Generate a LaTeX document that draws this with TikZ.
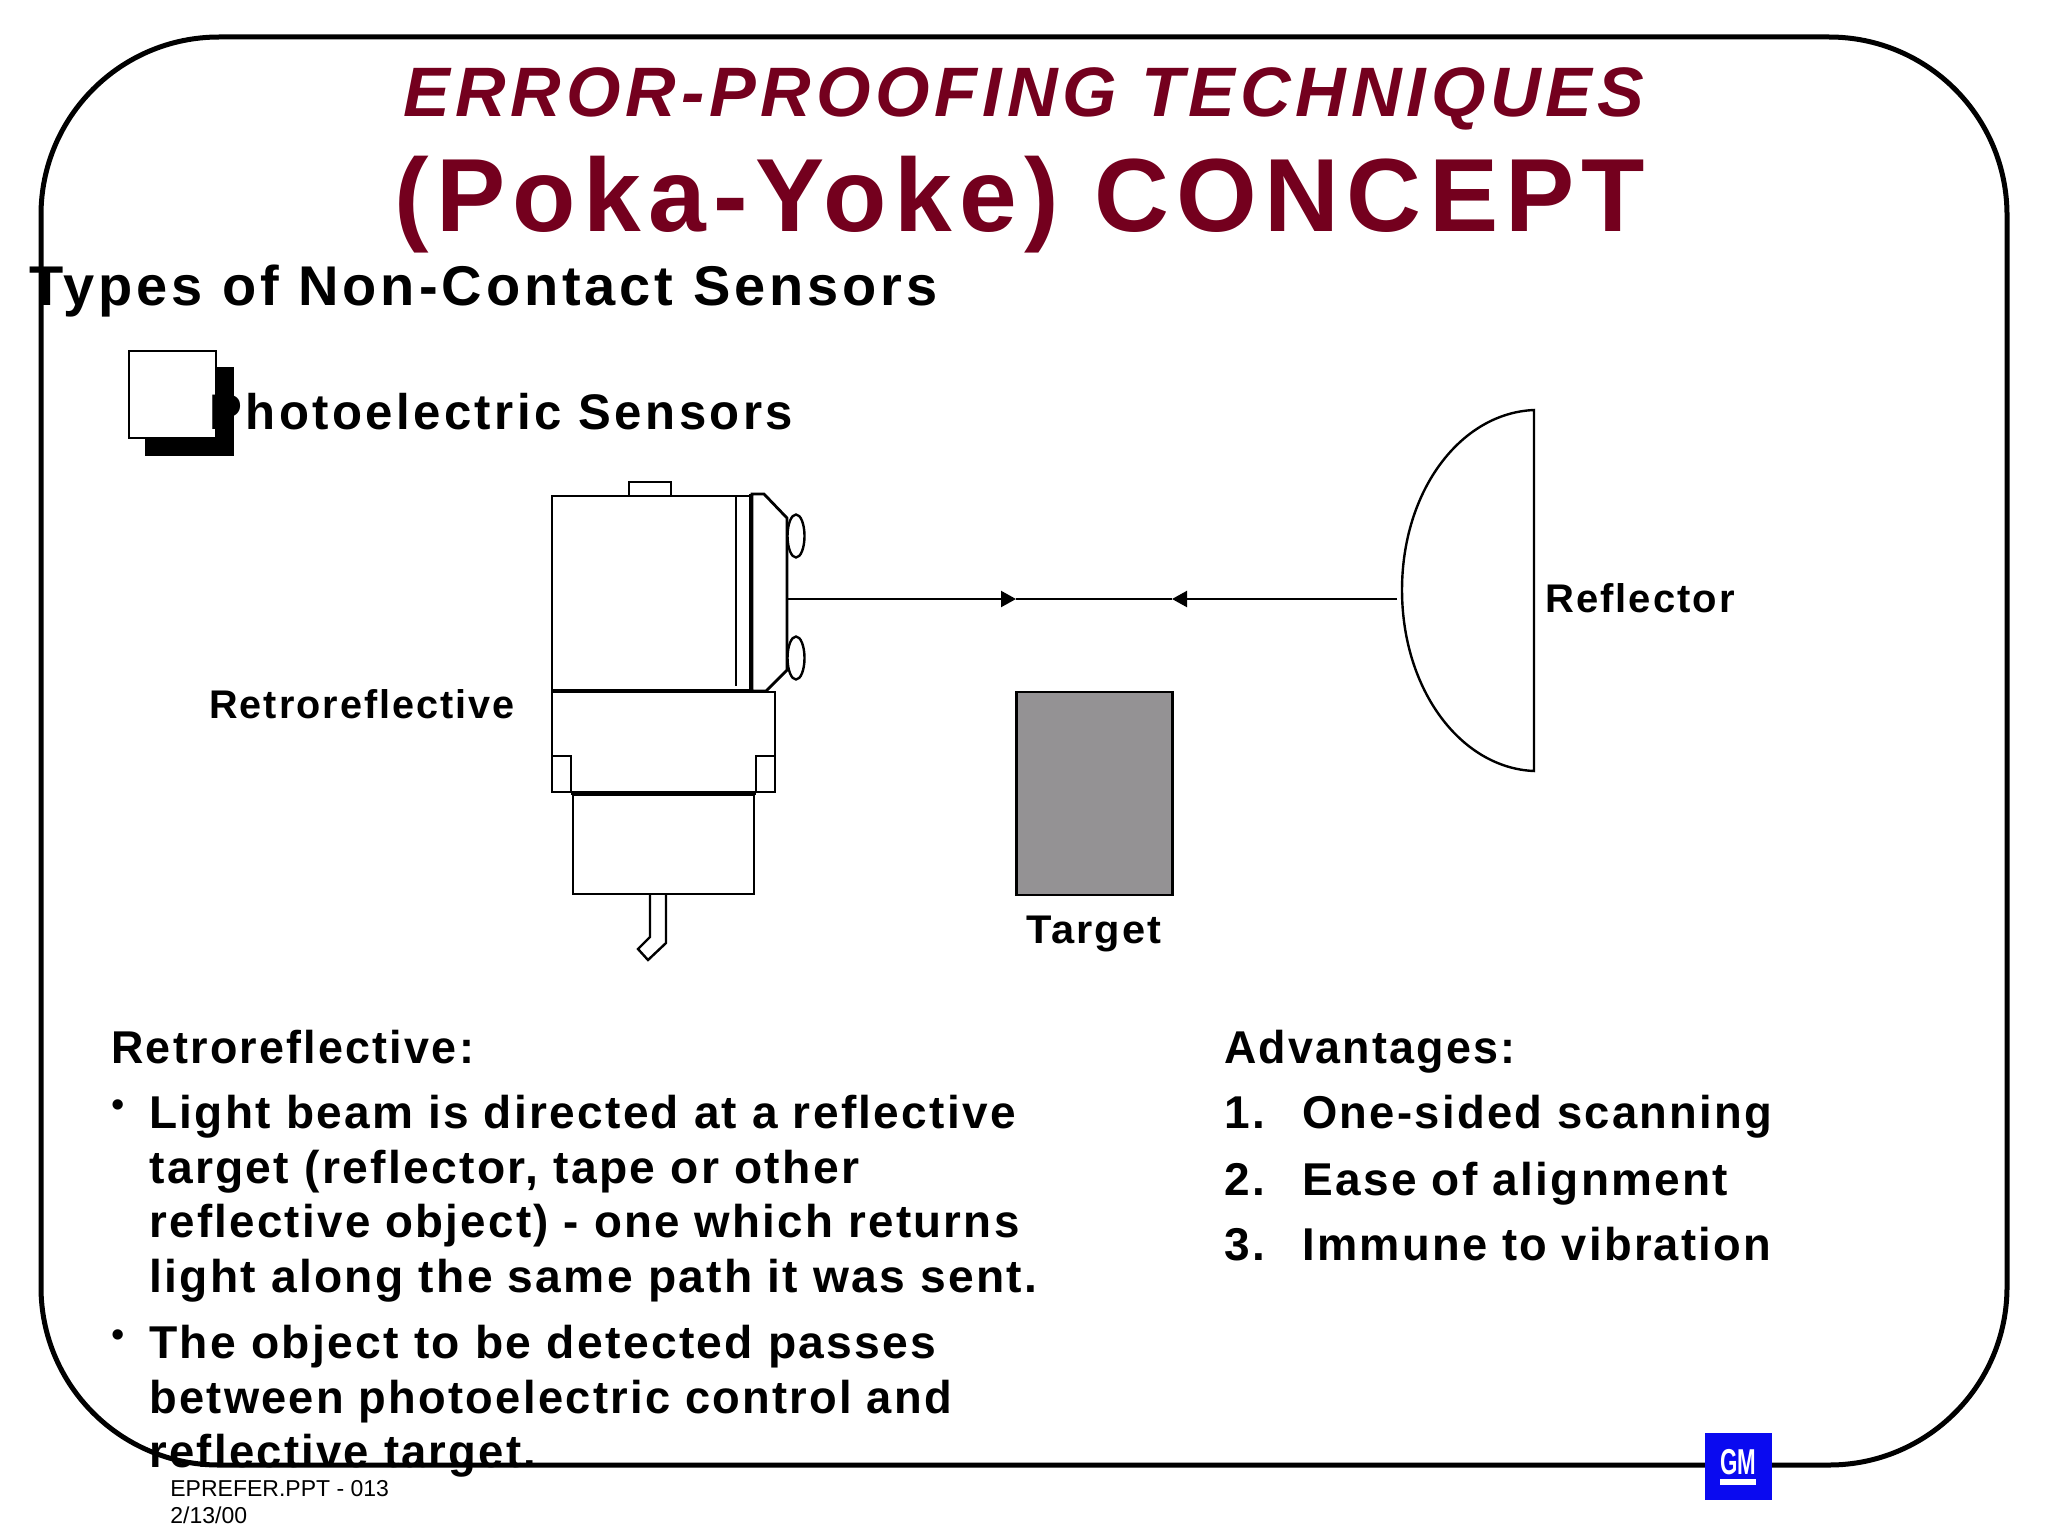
\documentclass[tikz,border=0pt]{standalone}
\usepackage{fontspec}
\setmainfont{Liberation Sans}
\newfontfamily\spacedfont[LetterSpace=5]{Liberation Sans}
\newfontfamily\widefont[LetterSpace=7]{Liberation Sans}
\usetikzlibrary{arrows.meta, positioning}
\definecolor{titlered}{HTML}{74001E}
\definecolor{targetgray}{HTML}{949294}
\definecolor{gmblue}{HTML}{0A0AF0}

\begin{document}
\begin{tikzpicture}[
    x=0.5pt, y=-0.5pt,
    part/.style ={draw, line width=1.4pt, fill=white},
    thin part/.style={draw, line width=1.2pt, fill=white},
    label/.style={anchor=base west, inner sep=0pt, font=\spacedfont\bfseries\fontsize{20}{20}\selectfont},
    body/.style ={anchor=base west, inner sep=0pt, font=\spacedfont\bfseries\fontsize{23}{23}\selectfont},
    dotmark/.style={anchor=center, inner sep=0pt, font=\fontsize{19}{19}\selectfont},
    foot/.style ={anchor=base west, inner sep=0pt, font=\fontsize{11.5}{11.5}\selectfont},
    beam/.style ={line width=1.1pt},
    beamtip/.style={beam, -{Triangle[length=7.5pt, width=8pt]}}
  ]
  \useasboundingbox (0,0) rectangle (2048,1536);
  \fill[white] (0,0) rectangle (2048,1536);

  % ---- Frame and headings ----------------------------------------------
  \draw[line width=2.5pt, rounded corners=89pt] (41,37) rectangle (2007,1465);
  \node[anchor=base, inner sep=0pt, text=titlered,
        font=\widefont\bfseries\itshape\fontsize{35}{35}\selectfont] (title1) at (1024,117)
        {ERROR-PROOFING TECHNIQUES};
  \node[anchor=base, inner sep=0pt, text=titlered, xscale=0.997,
        font=\widefont\bfseries\fontsize{52}{52}\selectfont] (title2) at (1020,231)
        {(Poka-Yoke) CONCEPT};
  \node[anchor=base west, inner sep=0pt,
        font=\widefont\bfseries\fontsize{28}{28}\selectfont] (types) at (29,305)
        {Types of Non-Contact Sensors};

  % ---- Checkbox bullet -------------------------------------------------
  \fill (145,367) rectangle (234,456);
  \draw[line width=1.4pt, fill=white] (129,351) rectangle (216,438);
  \node[anchor=base west, inner sep=0pt, xscale=0.982,
        font=\widefont\bfseries\fontsize{25}{25}\selectfont] (photo) at (209,429)
        {Photoelectric Sensors};

  % ---- Sensor body -----------------------------------------------------
  \draw[part] (629,482) rectangle (671,496);
  \draw[part] (552,496) rectangle (750,691);
  \draw[line width=1.4pt] (736,497) -- (736,686);
  \draw[part] (752,494) -- (764,494) -- (787,518) -- (787,670) -- (766,691) -- (752,691) -- cycle;
  \draw[line width=2pt] (751,494) -- (751,691);
  \draw[line width=2pt] (552,691) -- (752,691);
  \draw[thin part] (796,536) ellipse (8.5 and 21.5);
  \draw[thin part] (796,658) ellipse (8.5 and 21.5);

  % ---- Bracket, base and cable -----------------------------------------
  \draw[part] (552,692) rectangle (775,792);
  \draw[thin part] (552,756) rectangle (571,792);
  \draw[thin part] (756,756) rectangle (775,792);
  \draw[part] (573,795) rectangle (754,894);
  \draw[line width=2pt] (571,793) -- (756,793);
  \draw[line width=1.2pt] (650,894) -- (650,937) -- (638,949) -- (648,960) -- (666,943) -- (666,894);

  % ---- Reflector and target --------------------------------------------
  \draw[part, line width=1.2pt] (1534,410) -- (1534,771)
      .. controls (1461,768) and (1402,690) .. (1402,590)
      .. controls (1402,490) and (1461,413) .. (1534,410) -- cycle;
  \node[draw, line width=1.2pt, fill=targetgray, minimum width=78pt, minimum height=101.5pt,
        inner sep=0pt] (target) at (1094.5,793.5) {};

  % ---- Beam ------------------------------------------------------------
  \coordinate (lens)   at (787,599);
  \coordinate (mirror) at (1397,599);
  \coordinate (tipL)   at (1016,599);
  \coordinate (tipR)   at (1172,599);
  \draw[beamtip] (lens) -- (tipL);
  \draw[beamtip] (mirror) -- (tipR);
  \draw[beam] (tipL) -- (tipR);

  % ---- Labels ----------------------------------------------------------
  \node[label, xscale=0.99] (retrolabel) at (209,718) {Retroreflective};
  \node[label, anchor=base, xscale=1.04] (targetlabel) at (1094,943) {Target};
  \node[label] (reflectlabel) at (1545,612) {Reflector};

  % ---- Left text -------------------------------------------------------
  \node[body, xscale=0.975] (retro) at (111,1063) {Retroreflective:};
  \node[dotmark] (dot1) at (118,1109) {•};
  \node[body] (l1) at (149,1128) {Light beam is directed at a reflective};
  \node[body, xscale=1.005] (l2) at (149,1183) {target (reflector, tape or other};
  \node[body, xscale=0.993] (l3) at (149,1237) {reflective object) - one which returns};
  \node[body, xscale=1.004] (l4) at (149,1292) {light along the same path it was sent.};
  \node[dotmark] (dot2) at (118,1339) {•};
  \node[body, xscale=1.005] (l5) at (149,1358) {The object to be detected passes};
  \node[body, xscale=0.984] (l6) at (149,1413) {between photoelectric control and};
  \node[body, xscale=0.987] (l7) at (149,1467) {reflective target.};

  % ---- Right text ------------------------------------------------------
  \node[body, xscale=0.974] (adv) at (1224,1063) {Advantages:};
  \node[body] (n1) at (1224,1128) {1.};
  \node[body, xscale=0.986] (a1) at (1302,1128) {One-sided scanning};
  \node[body] (n2) at (1224,1195) {2.};
  \node[body] (a2) at (1302,1195) {Ease of alignment};
  \node[body] (n3) at (1224,1260) {3.};
  \node[body, xscale=0.984] (a3) at (1302,1260) {Immune to vibration};

  % ---- Footer ----------------------------------------------------------
  \node[foot] (file) at (170,1496) {EPREFER.PPT - 013};
  \node[foot] (date) at (170,1523) {2/13/00};
  \node[fill=gmblue, minimum size=33.5pt, inner sep=0pt] (gm) at (1738.5,1466.5) {};
  \node[anchor=base, inner sep=0pt, text=white, xscale=0.62,
        font=\bfseries\fontsize{18}{18}\selectfont] (gmtext) at (1738,1474) {GM};
  \fill[white] (1720,1479) rectangle (1756,1485);
\end{tikzpicture}
\end{document}
